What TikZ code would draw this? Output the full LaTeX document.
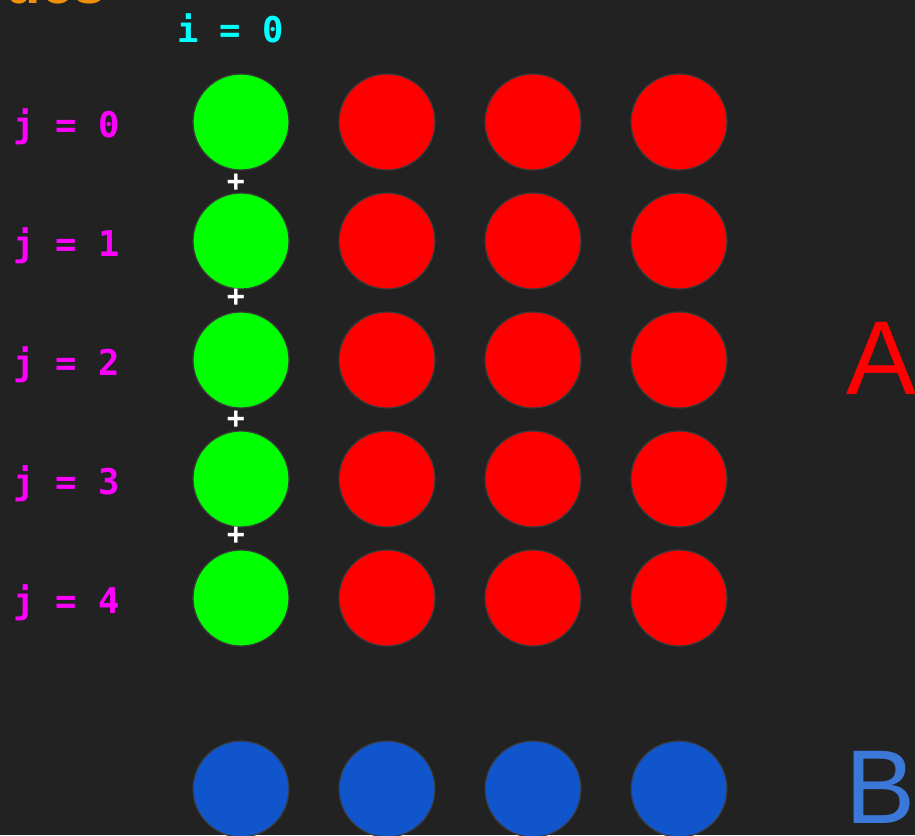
\documentclass[tikz,border=0pt]{standalone}
\usepackage{fontspec}
\setmainfont{Liberation Sans}
\newfontfamily\monob{DejaVu Sans Mono}[BoldFont={DejaVu Sans Mono Bold}]
\definecolor{bg}{HTML}{222222}
\definecolor{grn}{HTML}{00FF00}
\definecolor{rd}{HTML}{FF0000}
\definecolor{bl}{HTML}{1155CC}
\definecolor{bletter}{HTML}{3C78D8}
\definecolor{mag}{HTML}{FF00FF}
\definecolor{cyn}{HTML}{00FFFF}
\definecolor{org}{HTML}{F0900A}
\definecolor{rim}{HTML}{3A3A3A}
\tikzset{
  dot/.style={circle, minimum size=96pt, inner sep=0pt, draw=rim, line width=1.2pt},
  gdot/.style={dot, fill=grn},
  rdot/.style={dot, fill=rd},
  bdot/.style={dot, fill=bl},
  jlabel/.style={text=mag, font=\monob\bfseries\fontsize{35.5}{40}\selectfont, anchor=west, inner sep=0pt},
  ilabel/.style={text=cyn, font=\monob\bfseries\fontsize{35.5}{40}\selectfont, anchor=west, inner sep=0pt},
  plus/.style={text=white, font=\monob\bfseries\fontsize{30}{34}\selectfont, inner sep=0pt},
  big/.style={font=\fontsize{105}{110}\selectfont, inner sep=0pt, anchor=base west}
}
\begin{document}
\begin{tikzpicture}[x=1pt,y=-1pt]
\useasboundingbox (0,0) rectangle (915,835);
\fill[bg] (0,0) rectangle (915,835);
\begin{scope}
\clip (0,0) rectangle (915,835);
% cropped orange title
\node[text=org, font=\bfseries\fontsize{58}{64}\selectfont, anchor=base east, inner sep=0pt] (title) at (106,4) {ues};
% rows
\foreach \r/\y in {0/122,1/241,2/360,3/479,4/598}{
  \node[gdot] (g\r) at (241,\y) {};
  \node[rdot] (r\r a) at (387,\y) {};
  \node[rdot] (r\r b) at (533,\y) {};
  \node[rdot] (r\r c) at (679,\y) {};
  \node[jlabel] (j\r) at (13,\y+5) {j = \r};
}
\foreach \k/\x in {0/241,1/387,2/533,3/679}{
  \node[bdot] (b\k) at (\x,789) {};
}
\end{scope}
\node[ilabel] (ilab) at (177,28) {i = 0};
\node[plus] (p1) at (236,183) {+};
\node[plus] (p2) at (236,298) {+};
\node[plus] (p3) at (236,420) {+};
\node[plus] (p4) at (236,536) {+};
\node[big, text=rd] (A) at (846,394) {A};
\node[big, text=bletter] (B) at (845,823) {B};
\end{tikzpicture}
\end{document}
